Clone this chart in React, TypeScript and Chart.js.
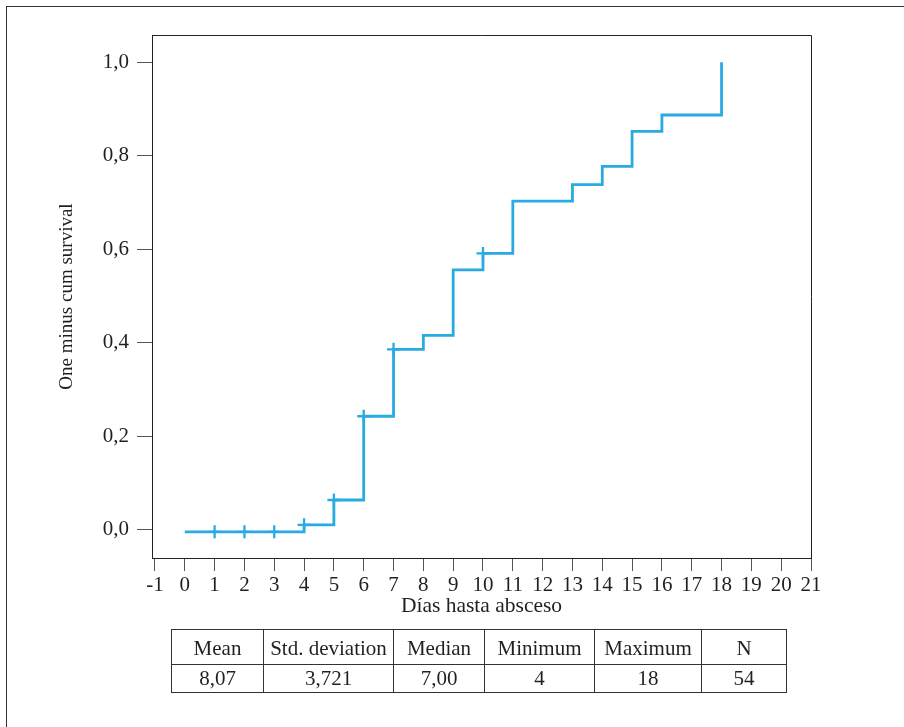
import React, { useEffect, useRef } from 'react';
import { Chart, registerables } from 'chart.js';

Chart.register(...registerables);

// Kaplan–Meier step points (day at which the cumulative value changes)
const stepDays = [0, 4, 5, 6, 7, 8, 9, 10, 11, 13, 14, 15, 16, 18];
const stepValues = [-0.004, 0.011, 0.064, 0.243, 0.386, 0.416, 0.556, 0.591, 0.703, 0.738, 0.777, 0.852, 0.887, 1.0];

// censored observations
const censorDays = [1, 2, 3, 4, 5, 6, 7, 10];
const censorValues = [-0.004, -0.004, -0.004, 0.011, 0.064, 0.243, 0.386, 0.591];

// summary table
const tableHeaders = ['Mean', 'Std. deviation', 'Median', 'Minimum', 'Maximum', 'N'];
const tableValues = ['8,07', '3,721', '7,00', '4', '18', '54'];
const tableColWidths = [92, 130, 91, 110, 107, 85];

const xTitle = 'Días hasta absceso';
const yTitle = 'One minus cum survival';

const FONT = '"Liberation Serif", "Times New Roman", serif';
const TEXT = '#231f20';
const BLUE = '#29abe2';

const frameBox = {
  id: 'frameBox',
  afterDraw(chart: any) {
    const { ctx, chartArea } = chart;
    ctx.save();
    ctx.strokeStyle = '#222';
    ctx.lineWidth = 1;
    ctx.beginPath();
    ctx.moveTo(chartArea.left, chartArea.top + 0.5);
    ctx.lineTo(chartArea.right + 0.5, chartArea.top + 0.5);
    ctx.lineTo(chartArea.right + 0.5, chartArea.bottom);
    ctx.stroke();
    ctx.restore();
  },
};

export default function App() {
  const canvasRef = useRef<HTMLCanvasElement>(null);

  useEffect(() => {
    if (!canvasRef.current) return;
    const chart = new Chart(canvasRef.current, {
      type: 'scatter',
      data: {
        datasets: [
          {
            type: 'line',
            data: stepDays.map((d, i) => ({ x: d, y: stepValues[i] })),
            borderColor: BLUE,
            borderWidth: 2.8,
            stepped: 'before',
            pointRadius: 0,
            fill: false,
          } as any,
          {
            type: 'scatter',
            data: censorDays.map((d, i) => ({ x: d, y: censorValues[i] })),
            pointStyle: 'cross',
            pointRadius: 6.5,
            borderColor: BLUE,
            backgroundColor: BLUE,
            pointBorderWidth: 2.3,
            borderWidth: 2.3,
            showLine: false,
          } as any,
        ],
      },
      options: {
        responsive: false,
        animation: false,
        devicePixelRatio: 1,
        layout: { padding: { left: 0, top: 35, right: 93, bottom: 0 } },
        plugins: { legend: { display: false }, tooltip: { enabled: false } },
        scales: {
          x: {
            type: 'linear',
            min: -1.1,
            max: 21,
            afterFit: (s: any) => { s.height = 169; },
            grid: { drawOnChartArea: false, drawTicks: true, tickLength: 13, color: '#555', lineWidth: 1 },
            border: { display: true, color: '#222', width: 1 },
            ticks: {
              stepSize: 1,
              includeBounds: false,
              autoSkip: false,
              maxTicksLimit: 100,
              maxRotation: 0,
              padding: 1.5,
              color: TEXT,
              font: { family: FONT, size: 21 },
              callback: (v: any) => String(v),
            },
            title: {
              display: true,
              text: xTitle,
              color: TEXT,
              font: { family: FONT, size: 21.5 },
              padding: { top: 0, bottom: 108 },
            },
          },
          y: {
            type: 'linear',
            min: -0.06,
            max: 1.058,
            afterFit: (s: any) => { s.width = 152; },
            grid: { drawOnChartArea: false, drawTicks: true, tickLength: 15, color: '#555', lineWidth: 1 },
            border: { display: true, color: '#222', width: 1 },
            ticks: {
              stepSize: 0.2,
              includeBounds: false,
              maxTicksLimit: 100,
              padding: 8,
              color: TEXT,
              font: { family: FONT, size: 21 },
              callback: (v: any) => Number(v).toFixed(1).replace('.', ','),
            },
            title: {
              display: true,
              text: yTitle,
              color: TEXT,
              font: { family: FONT, size: 19 },
              padding: { top: 55.5, bottom: 0 },
            },
          },
        },
      },
      plugins: [frameBox],
    } as any);
    return () => chart.destroy();
  }, []);

  const cellStyle: React.CSSProperties = {
    border: '1px solid #333',
    padding: 0,
    textAlign: 'center',
    verticalAlign: 'middle',
    whiteSpace: 'nowrap',
  };

  return (
    <div style={{ position: 'absolute', left: 0, top: 0, width: 904, height: 727, overflow: 'hidden', background: '#fff' }}>
      <div style={{ position: 'absolute', left: 6, top: 6, width: 1200, height: 1200, border: '1px solid #333' }} />
      <canvas ref={canvasRef} width={904} height={727} style={{ position: 'absolute', left: 0, top: 0, width: 904, height: 727 }} />
      <table
        style={{
          position: 'absolute',
          left: 171,
          top: 629,
          width: 615,
          borderCollapse: 'collapse',
          tableLayout: 'fixed',
          fontFamily: FONT,
          fontSize: 21,
          color: TEXT,
          lineHeight: 1,
        }}
      >
        <colgroup>
          {tableColWidths.map((w, i) => <col key={i} style={{ width: w }} />)}
        </colgroup>
        <tbody>
          <tr style={{ height: 35 }}>
            {tableHeaders.map((h, i) => <td key={i} style={{ ...cellStyle, paddingTop: 3 }}>{h}</td>)}
          </tr>
          <tr style={{ height: 28 }}>
            {tableValues.map((v, i) => <td key={i} style={cellStyle}>{v}</td>)}
          </tr>
        </tbody>
      </table>
    </div>
  );
}
